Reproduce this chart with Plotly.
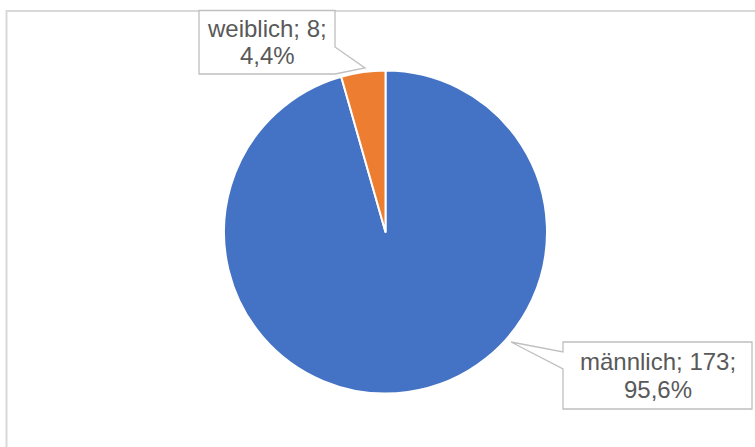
import plotly.graph_objects as go

# Data
labels = ["männlich", "weiblich"]
values = [173, 8]
colors = ["#4472C4", "#ED7D31"]

W, H = 755, 447


def px(x):
    return x / W


def py(y):
    return 1 - y / H


total = sum(values)
pcts = [v / total * 100 for v in values]
line1 = [f"{l}; {v};" for l, v in zip(labels, values)]
line2 = [f"{p:.1f}%".replace(".", ",") for p in pcts]

# pie geometry (pixels)
cx, cy, r = 385.5, 232, 161.5

fig = go.Figure(
    go.Pie(
        labels=labels,
        values=values,
        sort=False,
        direction="clockwise",
        rotation=0,
        textinfo="none",
        hoverinfo="label+value+percent",
        marker=dict(colors=colors, line=dict(color="white", width=2)),
        domain=dict(x=[px(cx - r), px(cx + r)], y=[py(cy + r), py(cy - r)]),
        showlegend=False,
    )
)


def path(points):
    return "M " + " L ".join(f"{px(x):.5f},{py(y):.5f}" for x, y in points) + " Z"


shapes = [
    # chart border
    dict(type="rect", xref="paper", yref="paper",
         x0=px(6.5), x1=px(770), y0=py(11), y1=py(470),
         line=dict(color="#D9D9D9", width=2), fillcolor="rgba(0,0,0,0)", layer="below"),
]

# callout boxes (male, female)
callouts = [
    dict(box=[(563, 342), (752, 342), (752, 409), (563, 409), (563, 369), (511, 342), (563, 352)],
         cx=657.5, y1=361.5, y2=389.5),
    dict(box=[(199, 10.5), (335, 10.5), (335, 47), (365, 68), (335, 74), (199, 74)],
         cx=267, y1=29, y2=55.5),
]

annotations = []
for i, c in enumerate(callouts):
    shapes.append(dict(type="path", xref="paper", yref="paper", path=path(c["box"]),
                       fillcolor="white", line=dict(color="#BFBFBF", width=1.3), layer="above"))
    for txt, yy in ((line1[i], c["y1"]), (line2[i], c["y2"])):
        annotations.append(dict(text=txt, x=px(c["cx"]), y=py(yy), xref="paper", yref="paper",
                                xanchor="center", yanchor="middle", showarrow=False,
                                font=dict(family="Liberation Sans, Arial, sans-serif",
                                          size=24, color="#595959")))

fig.update_layout(
    width=W, height=H,
    margin=dict(l=0, r=0, t=0, b=0),
    paper_bgcolor="white", plot_bgcolor="white",
    shapes=shapes, annotations=annotations,
)

fig.write_html("out.html", config={"displayModeBar": False},
               post_script="document.body.style.margin='0';")
